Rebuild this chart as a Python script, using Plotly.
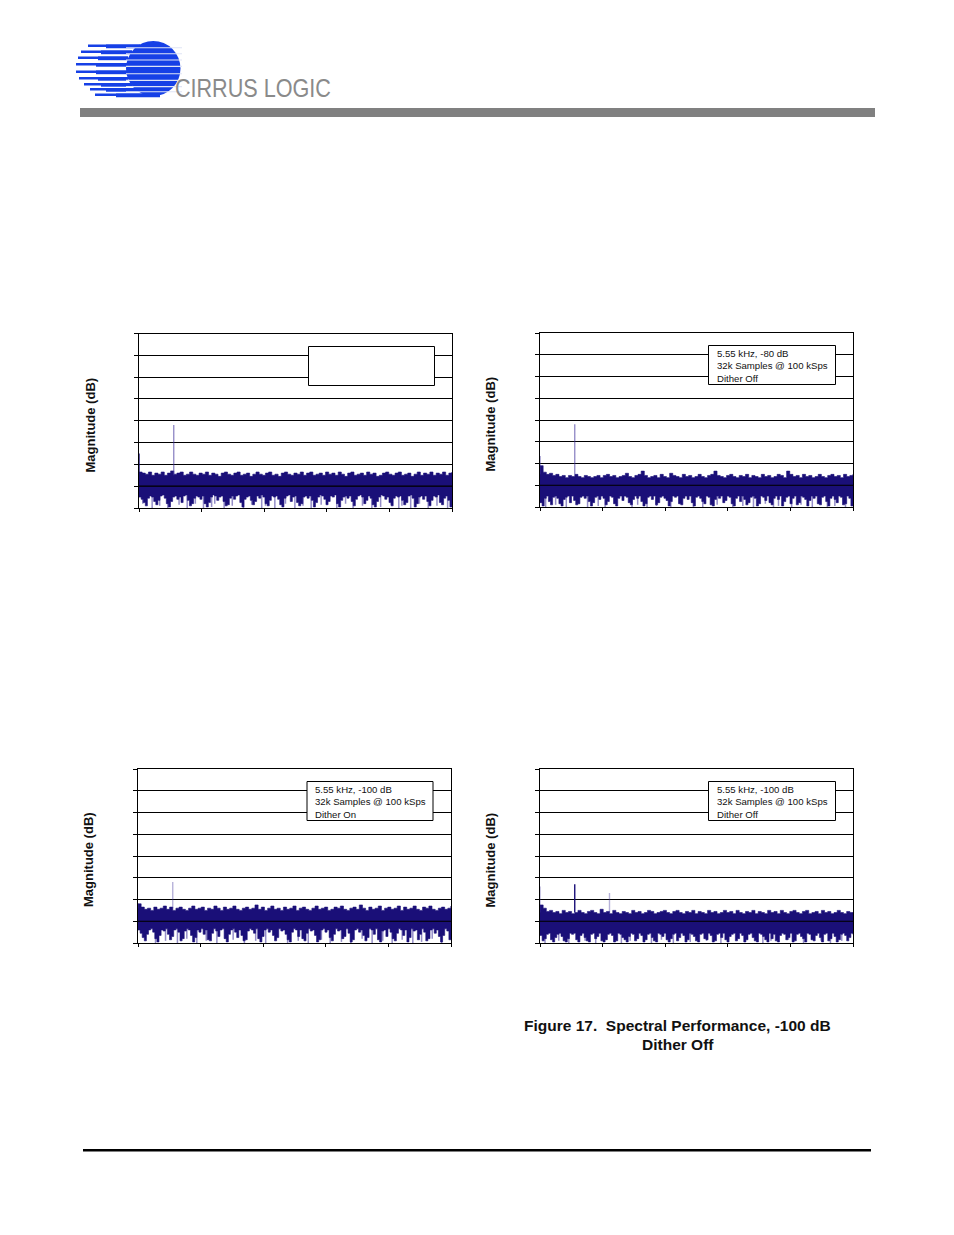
import numpy as np
import plotly.graph_objects as go

W, H = 954, 1235
NAVY = "#1a0f78"
LAV = "rgba(62,50,155,0.55)"
LAV_PALE = "rgba(62,50,155,0.38)"
BLUE = "#1640e6"

db_ticks = [-160, -140, -120, -100, -80, -60, -40, -20, 0]
khz_ticks = [0, 10, 20, 30, 40, 50]

top1 = [-127,-128,-129,-127,-130,-128,-129,-127,-130,-128,-126,-129,-128,-127,-130,-129,-127,-129,-130,-128,
        -129,-127,-130,-128,-129,-131,-128,-127,-129,-130,-128,-127,-130,-129,-128,-131,-129,-127,-129,-130,
        -128,-127,-130,-129,-131,-128,-127,-129,-130,-128,-129,-127,-130,-128,-127,-130,-129,-128,-130,-127,
        -129,-128,-130,-127,-129,-131,-128,-127,-130,-129,-128,-130,-127,-129,-128,-131,-130,-128,-127,-129,
        -130,-128,-127,-130,-129,-128,-131,-129,-127,-130,-128,-129,-127,-130,-128,-129,-127,-130,-128,-127]
bot1 = [-150,-152,-155,-158,-151,-149,-150,-154,-157,-153,-149,-148,-151,-156,-159,-154,-150,-149,-152,-150,
        -155,-149,-148,-153,-158,-156,-151,-149,-150,-152,-149,-156,-159,-155,-150,-148,-149,-153,-150,-149,
        -154,-158,-157,-151,-149,-152,-149,-148,-155,-159,-152,-150,-149,-153,-157,-154,-149,-151,-148,-150,
        -156,-158,-153,-149,-150,-149,-152,-157,-159,-151,-149,-148,-154,-150,-149,-155,-158,-156,-150,-149,
        -151,-149,-153,-159,-155,-150,-148,-149,-152,-157,-154,-149,-150,-148,-156,-159,-153,-150,-149,-151,
        -149,-154,-158,-152,-149,-148,-150,-156,-153,-149,-151,-157,-159,-154,-150,-148,-149,-152,-150,-155,
        -158,-151,-149,-150,-149,-153,-157,-155,-149,-148,-151,-159,-156,-150,-149,-152,-149,-154,-158,-153,
        -149,-150,-148,-155,-157,-151,-149,-153,-159,-152]
dip1_x = [0.6,2.1,3.3,4.6,6.4,7.7,9.0,10.3,11.6,12.1,13.6,14.9,16.7,18.0,19.6,20.2,21.7,23.4,24.9,26.2,
          27.5,29.1,31.6,33.0,34.2,35.7,37.2,38.6,40.3,41.5,42.0,43.4,44.8,46.2,47.6,49.3]
dip1_y = [-156,-160,-158,-160,-157,-160,-156,-160,-159,-156,-160,-158,-160,-157,-160,-158,-160,-156,-160,-158,
          -160,-157,-160,-156,-160,-158,-160,-159,-157,-160,-158,-160,-156,-160,-158,-160]

top2 = [-122,-128,-130,-129,-131,-130,-132,-131,-133,-131,-132,-130,-132,-133,-131,-132,-133,-132,-131,-133,
        -131,-130,-132,-131,-133,-132,-131,-129,-132,-133,-131,-130,-127,-131,-133,-132,-131,-133,-130,-132,
        -133,-129,-131,-132,-133,-130,-132,-131,-133,-132,-130,-132,-133,-131,-130,-127,-131,-132,-133,-131,
        -130,-132,-133,-131,-132,-130,-133,-131,-132,-133,-130,-132,-131,-133,-132,-130,-131,-133,-127,-130,
        -132,-131,-133,-130,-132,-131,-133,-132,-130,-132,-133,-131,-130,-132,-131,-133,-130,-132,-131,-130]
bot2 = [-156,-159,-152,-150,-155,-158,-151,-150,-152,-157,-159,-153,-151,-150,-156,-150,-154,-158,-157,-151,
        -150,-152,-150,-155,-159,-156,-151,-150,-153,-150,-152,-158,-155,-150,-151,-157,-159,-152,-150,-154,
        -150,-151,-156,-158,-153,-150,-152,-150,-155,-159,-157,-151,-150,-153,-150,-158,-156,-151,-150,-152,
        -154,-159,-155,-150,-151,-150,-157,-158,-152,-150,-153,-150,-156,-159,-151,-150,-152,-155,-157,-150,
        -151,-158,-159,-153,-150,-152,-150,-156,-154,-150,-151,-157,-159,-152,-150,-155,-150,-153,-158,-156,
        -151,-150,-152,-159,-157,-150,-151,-154,-150,-156,-158,-152,-150,-153,-150,-159,-155,-151,-150,-157,
        -152,-150,-158,-156,-150,-151,-153,-159,-154,-150,-152,-150,-157,-158,-151,-150,-155,-159,-152,-150,
        -153,-156,-150,-151,-158,-157,-150,-152,-159,-154]
dip2_x = [0.9,2.5,4.2,6.0,7.6,9.3,10.4,12.0,14.7,15.6,17.1,18.6,20.9,22.2,24.5,26.0,28.3,30.8,32.4,34.1,
          36.0,37.3,38.1,40.2,41.7,43.5,44.6,45.9,47.1,48.8]
dip2_y = [-160,-158,-160,-157,-160,-159,-160,-157,-160,-158,-160,-159,-160,-157,-160,-160,-158,-160,-159,-160,
          -157,-160,-159,-160,-158,-160,-157,-160,-159,-160]

top3 = [-124,-127,-129,-128,-130,-127,-129,-128,-126,-129,-127,-130,-128,-127,-129,-130,-128,-126,-129,-128,
        -127,-130,-128,-129,-126,-128,-130,-127,-129,-128,-126,-129,-130,-128,-127,-129,-128,-125,-129,-127,
        -130,-128,-126,-129,-128,-130,-127,-129,-128,-126,-130,-128,-127,-129,-130,-128,-126,-129,-128,-127,
        -130,-129,-127,-128,-126,-129,-130,-128,-127,-129,-125,-128,-130,-127,-129,-128,-126,-130,-128,-127,
        -129,-128,-126,-130,-127,-129,-128,-126,-129,-130,-127,-128,-126,-129,-130,-128,-127,-129,-128,-126]
bot3 = [-148,-151,-155,-158,-152,-148,-147,-150,-156,-159,-153,-148,-149,-147,-152,-157,-154,-148,-147,-150,
        -158,-156,-149,-147,-148,-153,-159,-155,-148,-150,-147,-152,-148,-157,-158,-151,-147,-149,-154,-148,
        -147,-156,-159,-152,-148,-147,-150,-155,-148,-153,-158,-157,-149,-147,-148,-151,-147,-156,-159,-154,
        -148,-147,-150,-148,-153,-158,-155,-147,-149,-148,-152,-157,-159,-150,-147,-148,-154,-148,-156,-158,
        -151,-147,-149,-148,-153,-159,-157,-148,-147,-150,-148,-155,-158,-152,-147,-149,-148,-156,-154,-147,
        -151,-159,-157,-148,-147,-150,-148,-153,-158,-155,-147,-148,-152,-147,-157,-159,-149,-148,-154,-147,
        -150,-156,-158,-151,-147,-148,-153,-148,-159,-155,-147,-149,-148,-157,-152,-147,-150,-158,-156,-148,
        -147,-151,-148,-154,-159,-153,-147,-149,-157,-148]
dip3_x = [1.2,2.8,4.4,6.3,7.8,9.4,10.9,12.6,14.3,15.2,17.0,18.8,20.4,22.1,23.9,25.6,27.2,29.3,30.7,32.5,
          34.0,35.8,37.4,39.1,40.6,42.2,43.9,45.3,47.0,48.5]
dip3_y = [-156,-160,-158,-160,-156,-160,-158,-160,-159,-157,-160,-158,-160,-156,-160,-158,-160,-157,-160,-159,
          -160,-156,-160,-158,-160,-157,-160,-159,-156,-160]

top4 = [-125,-128,-131,-130,-132,-131,-133,-130,-132,-131,-133,-132,-130,-132,-133,-131,-130,-132,-133,-129,
        -132,-131,-133,-130,-132,-133,-131,-132,-133,-130,-132,-131,-133,-132,-130,-131,-133,-132,-131,-130,
        -132,-133,-131,-130,-132,-133,-131,-132,-130,-133,-131,-132,-133,-130,-132,-131,-133,-132,-130,-132,
        -131,-133,-130,-132,-133,-131,-132,-130,-133,-131,-132,-133,-130,-132,-131,-133,-130,-132,-133,-131,
        -130,-132,-133,-131,-130,-133,-132,-131,-133,-130,-132,-131,-133,-132,-130,-132,-133,-131,-132,-133]
bot4 = [-153,-158,-156,-152,-151,-157,-159,-155,-152,-151,-154,-158,-159,-156,-151,-152,-151,-157,-159,-153,
        -151,-155,-158,-159,-152,-151,-156,-154,-151,-158,-159,-157,-152,-151,-153,-159,-158,-151,-152,-155,
        -157,-159,-154,-151,-152,-158,-156,-151,-153,-159,-157,-152,-151,-155,-158,-159,-151,-152,-154,-151,
        -157,-159,-156,-152,-151,-158,-155,-151,-153,-159,-157,-151,-152,-154,-158,-159,-152,-151,-156,-157,
        -151,-153,-159,-158,-152,-151,-155,-151,-157,-159,-154,-152,-151,-158,-156,-151,-153,-159,-157,-152,
        -151,-155,-158,-159,-151,-152,-154,-157,-159,-151,-156,-152,-158,-159,-153,-151,-152,-157,-155,-151,
        -159,-158,-152,-151,-154,-156,-159,-151,-152,-157,-158,-153,-151,-155,-159,-152,-151,-158,-156,-151,
        -154,-159,-157,-152,-151,-153,-158,-155,-151,-152]
dip4_x = [0.8,3.0,4.6,7.2,8.9,10.7,13.0,14.4,17.8,19.4,21.3,24.0,26.6,28.9,30.1,32.8,35.6,36.9,39.7,42.1,
          44.9,46.4,48.2]
dip4_y = [-160,-158,-160,-158,-160,-157,-160,-158,-160,-157,-160,-159,-158,-160,-157,-159,-160,-158,-157,-160,
          -158,-160,-158]

tone1_x, tone1_y = [5.55, 0.0], [-84, -110]
tone2_x, tone2_y = [5.55, 0.0], [-84, -113]
tone3_x, tone3_y = [5.55, 0.0], [-104, -124]
tone4_x, tone4_y = [5.55, 11.1, 0.0], [-106, -114, -108]
tone1_c = [LAV, NAVY]
tone2_c = [LAV, LAV]
tone3_c = [LAV_PALE, LAV_PALE]
tone4_c = [NAVY, LAV_PALE, LAV_PALE]
tone_floor = [-130, -130, -128, -132]

captions = [None,
            "5.55 kHz, -80 dB<br>32k Samples @ 100 kSps<br>Dither Off",
            "5.55 kHz, -100 dB<br>32k Samples @ 100 kSps<br>Dither On",
            "5.55 kHz, -100 dB<br>32k Samples @ 100 kSps<br>Dither Off"]
y_title = "Magnitude (dB)"
figure_title = ["Figure 17.  Spectral Performance, -100 dB", "Dither Off"]
brand = "CIRRUS LOGIC"

panels = [
    dict(top=top1, bot=bot1, dx=dip1_x, dy=dip1_y, tx=tone1_x, ty=tone1_y, tc=tone1_c, px=(139, 452), py=(333.5, 508),
         box=(308.5, 434.5, 346.5, 385.5), title=(89.5, 425)),
    dict(top=top2, bot=bot2, dx=dip2_x, dy=dip2_y, tx=tone2_x, ty=tone2_y, tc=tone2_c, px=(540, 853), py=(333, 507),
         box=(708.5, 835.5, 345.5, 384.5), title=(489.5, 424)),
    dict(top=top3, bot=bot3, dx=dip3_x, dy=dip3_y, tx=tone3_x, ty=tone3_y, tc=tone3_c, px=(138, 451), py=(769, 943),
         box=(307, 433, 781.5, 820.5), title=(88, 860)),
    dict(top=top4, bot=bot4, dx=dip4_x, dy=dip4_y, tx=tone4_x, ty=tone4_y, tc=tone4_c, px=(540, 853), py=(769, 943),
         box=(708.5, 835.5, 781.5, 820.5), title=(489.5, 860)),
]


def fx(p):
    return p / W


def fy(p):
    return 1 - p / H


def stems(xs, ys, base):
    ox, oy = [], []
    for x, y in zip(xs, ys):
        ox += [x, x, None]
        oy += [base, y, None]
    return ox, oy


def band(values, base):
    f = np.linspace(0, 50, len(values))
    return [0.0] + list(f) + [50.0], [base] + list(values) + [base]


fig = go.Figure()
shapes, annotations = [], []
layout = {}

for i, p in enumerate(panels):
    n = "" if i == 0 else str(i + 1)
    xa, ya = f"x{n}", f"y{n}"
    layout[f"xaxis{n}"] = dict(
        domain=[fx(p["px"][0]), fx(p["px"][1])], range=[0, 50], anchor=ya, tickvals=khz_ticks,
        ticks="outside", ticklen=3, tickwidth=1, tickcolor="black", showticklabels=False,
        showgrid=False, zeroline=False, showline=True, linecolor="black", linewidth=1, mirror=True,
    )
    layout[f"yaxis{n}"] = dict(
        domain=[fy(p["py"][1]), fy(p["py"][0])], range=[-160, 0], anchor=xa, tickvals=db_ticks,
        ticks="outside", ticklen=4, tickwidth=1, tickcolor="black", showticklabels=False,
        showgrid=True, gridcolor="black", gridwidth=1.2, zeroline=False, showline=True,
        linecolor="black", linewidth=1, mirror=True,
    )
    sx, sy = stems(p["dx"], p["dy"], -146)
    fig.add_trace(go.Scatter(x=sx, y=sy, mode="lines", line=dict(color=LAV, width=1.5),
                             xaxis=xa, yaxis=ya, hoverinfo="skip", showlegend=False))
    for values in (p["bot"], p["top"]):
        bx, by = band(values, -140)
        fig.add_trace(go.Scatter(x=bx, y=by, mode="lines", fill="toself", fillcolor=NAVY,
                                 line=dict(color=NAVY, width=0.6, shape="hv"),
                                 xaxis=xa, yaxis=ya, hoverinfo="skip", showlegend=False))
    for tx, ty, tc in zip(p["tx"], p["ty"], p["tc"]):
        fig.add_trace(go.Scatter(x=[tx, tx], y=[tone_floor[i], ty], mode="lines", line=dict(color=tc, width=1.4),
                                 xaxis=xa, yaxis=ya, hoverinfo="skip", showlegend=False))
    # the -140 dB rule sits above the noise in the reference
    shapes.append(dict(type="line", xref=f"{xa} domain", yref=ya, x0=0, x1=1, y0=-140, y1=-140,
                       line=dict(color="black", width=1.2), layer="above"))
    b = p["box"]
    shapes.append(dict(type="rect", xref="paper", yref="paper", x0=fx(b[0]), x1=fx(b[1]), y0=fy(b[3]), y1=fy(b[2]),
                       fillcolor="white", line=dict(color="black", width=1), layer="above"))
    if captions[i]:
        annotations.append(dict(xref="paper", yref="paper", x=fx(b[0] + 6), y=fy((b[2] + b[3]) / 2 + 0.5),
                                xanchor="left", yanchor="middle", align="left", showarrow=False, text=captions[i],
                                font=dict(family="Liberation Sans", size=9.6, color="#111")))
    annotations.append(dict(xref="paper", yref="paper", x=fx(p["title"][0]), y=fy(p["title"][1]), textangle=-90,
                            xanchor="center", yanchor="middle", showarrow=False, text=f"<b>{y_title}</b>",
                            font=dict(family="Liberation Sans", size=13, color="#111")))

# page furniture
shapes.append(dict(type="rect", xref="paper", yref="paper", x0=fx(80), x1=fx(875), y0=fy(117), y1=fy(108),
                   fillcolor="#808080", line=dict(width=0), layer="below"))
shapes.append(dict(type="rect", xref="paper", yref="paper", x0=fx(83), x1=fx(871), y0=fy(1151.5), y1=fy(1149),
                   fillcolor="black", line=dict(width=0), layer="below"))

# logo
shapes.append(dict(type="circle", xref="paper", yref="paper", x0=fx(126), x1=fx(180.5), y0=fy(96), y1=fy(41),
                   fillcolor=BLUE, line=dict(width=0), layer="above"))
for y0, y1, x0, x1, mid in [(44.5, 47, 88, 140, 106), (50.5, 53, 81, 132, 101), (56.5, 59, 78, 128, 98),
                            (63, 65.5, 76, 127, 96), (70.5, 73, 76, 127, 96), (77, 79.5, 79, 128, 98),
                            (83, 85.5, 84, 132, 101), (88, 90.5, 90, 140, 106), (93.5, 96, 95, 160, 116)]:
    shapes.append(dict(type="rect", xref="paper", yref="paper", x0=fx(x0), x1=fx(x1), y0=fy(y1), y1=fy(y0),
                       fillcolor=BLUE, line=dict(width=0), layer="above"))
    shapes.append(dict(type="rect", xref="paper", yref="paper", x0=fx(mid), x1=fx(x1), y0=fy(y1 + 1.2), y1=fy(y0),
                       fillcolor=BLUE, line=dict(width=0), layer="above"))
for y in [47.8, 53.8, 60, 66.4, 73.8, 80.4, 86.6, 91.8]:
    shapes.append(dict(type="line", xref="paper", yref="paper", x0=fx(126), x1=fx(182), y0=fy(y), y1=fy(y),
                       line=dict(color="#dfe4f5", width=1.1), layer="above"))

annotations.append(dict(xref="paper", yref="paper", x=fx(253), y=fy(88), xanchor="center", yanchor="middle",
                        showarrow=False, text=brand,
                        font=dict(family="Liberation Sans", size=26, color="#8a8a8a")))
annotations.append(dict(xref="paper", yref="paper", x=fx(677.5), y=fy(1025.5), xanchor="center", yanchor="middle",
                        showarrow=False, text=f"<b>{figure_title[0]}</b>",
                        font=dict(family="Liberation Sans", size=15.5, color="#111")))
annotations.append(dict(xref="paper", yref="paper", x=fx(677.5), y=fy(1044.5), xanchor="center", yanchor="middle",
                        showarrow=False, text=f"<b>{figure_title[1]}</b>",
                        font=dict(family="Liberation Sans", size=15.5, color="#111")))

fig.update_layout(width=W, height=H, margin=dict(l=0, r=0, t=0, b=0), paper_bgcolor="white", plot_bgcolor="white",
                  showlegend=False, shapes=shapes, annotations=annotations, **layout)
fig.write_html("out.html", config={"displayModeBar": False}, post_script="""
document.body.style.margin='0';
document.querySelectorAll('.annotation-text').forEach(function(t){
  if (t.textContent === 'CIRRUS LOGIC') {
    t.setAttribute('textLength', '156');
    t.setAttribute('lengthAdjust', 'spacingAndGlyphs');
  }
});
""")
